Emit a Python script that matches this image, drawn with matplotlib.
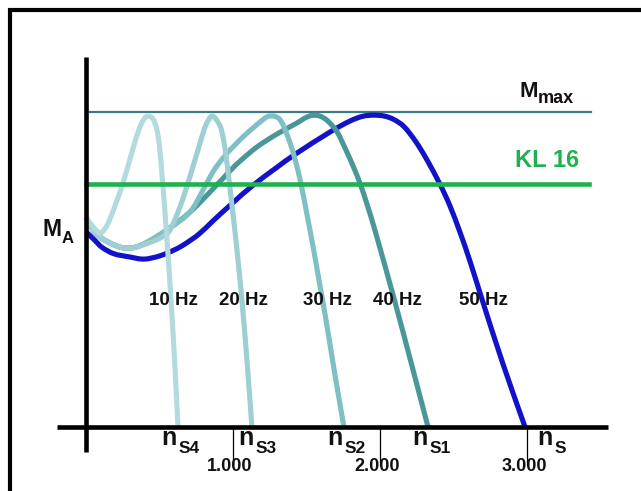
import matplotlib
matplotlib.use("Agg")
import numpy as np
import matplotlib.pyplot as plt
from matplotlib.patches import Rectangle, PathPatch
from matplotlib.path import Path

# ---------------- data (speed in rpm, torque in % of M_max) ----------------
n_10hz = [0, 54, 95, 129, 163, 204, 245, 286, 327, 361, 395, 422, 456, 483, 503, 517, 531, 551, 571, 599, 626]
m_10hz = [66.5, 63.2, 61.6, 62.9, 66.0, 71.1, 76.5, 82.9, 89.5, 94.6, 97.8, 98.7, 97.8, 94.3, 87.9, 80.0, 72.1, 59.4, 45.7, 24.4, 0]

n_20hz = [0, 40, 90, 160, 240, 330, 435, 517, 571, 639, 707, 776, 816, 857, 898, 925, 952, 973, 993, 1020, 1041, 1061, 1095, 1129]
m_20hz = [66.5, 63, 60.5, 58.5, 57, 57, 58.6, 60.3, 62.5, 69.8, 79.4, 90.2, 95.9, 98.7, 96.8, 93.7, 86.4, 78.4, 70.5, 59.4, 49.8, 40.3, 21.3, 0]

n_30hz = [0, 40, 90, 160, 240, 330, 430, 570, 707, 796, 864, 932, 1000, 1068, 1136, 1191, 1238, 1286, 1327, 1374, 1422, 1463, 1503, 1544, 1585, 1633, 1694, 1755]
m_30hz = [66.5, 63, 60.5, 58.5, 57, 57, 59, 63.2, 68.2, 75.2, 81.0, 85.4, 88.9, 92.1, 94.9, 97.1, 98.6, 98.6, 97.1, 92.1, 85.1, 77.1, 67.6, 57.5, 46.7, 34.0, 16.5, 0]

n_40hz = [0, 40, 90, 160, 240, 330, 430, 570, 707, 844, 980, 1048, 1163, 1299, 1435, 1490, 1537, 1592, 1646, 1708, 1769, 1823, 1871, 1918, 1973, 2102, 2211, 2327]
m_40hz = [66.5, 63, 60.5, 58.5, 57, 57, 59, 63.2, 68.2, 74.6, 81.3, 84.4, 88.9, 93.0, 96.5, 98.1, 98.9, 98.7, 97.1, 93.7, 87.9, 82.2, 76.5, 69.8, 61.3, 39.7, 20.6, 0]

n_50hz = [0, 55, 110, 190, 295, 395, 500, 600, 670, 770, 870, 995, 1130, 1295, 1430, 1655, 1790, 1880, 1955, 2030, 2095, 2165, 2245, 2320, 2408, 2476, 2544, 2612, 2694, 2837, 2987]
m_50hz = [62, 59.5, 57, 55, 54, 53.3, 54.3, 56.2, 58, 61.3, 65.7, 71, 76.5, 82.3, 86.8, 93.5, 97, 98.6, 99, 98.7, 97.6, 95.3, 90.5, 84.8, 77.1, 70.2, 61.9, 52.7, 40.6, 20.0, 0]

curve_labels = ["10 Hz", "20 Hz", "30 Hz", "40 Hz", "50 Hz"]
curve_label_x = [592, 1068, 1646, 2116, 2701]
curve_colors = ["#b3dadc", "#9dcfd3", "#7fc0c5", "#4a9799", "#1212c8"]

m_max_level = 100
kl16_level = 77.2

tick_values = [1000, 2000, 3000]
tick_labels = ["1.000", "2.000", "3.000"]

ns_names = ["S4", "S3", "S2", "S1", "S"]
ns_x = [510, 1034, 1640, 2218, 3068]


def smooth_path(xs, ys):
    """Cubic Bezier path passing through every data point (Catmull-Rom tangents)."""
    p = np.column_stack([xs, ys]).astype(float)
    verts = [tuple(p[0])]
    codes = [Path.MOVETO]
    n = len(p)
    for i in range(n - 1):
        p0 = p[i - 1] if i > 0 else p[i]
        p1 = p[i]
        p2 = p[i + 1]
        p3 = p[i + 2] if i + 2 < n else p[i + 1]
        c1 = p1 + (p2 - p0) / 6.0
        c2 = p2 - (p3 - p1) / 6.0
        verts += [tuple(c1), tuple(c2), tuple(p2)]
        codes += [Path.CURVE4] * 3
    return Path(verts, codes)


# ---------------- figure ----------------
fig = plt.figure(figsize=(6.41, 4.91), dpi=100)
ax = fig.add_axes([0, 0, 1, 1])
ax.set_xlim(-585, 3776)
ax.set_ylim(-20.32, 135.56)
ax.axis("off")

FONT = "Liberation Sans"
INK = "#111111"

# frame
fig.add_artist(Rectangle((10 / 641, -0.5), 2, (1 - 10 / 491) + 0.5,
                         transform=fig.transFigure, fill=False,
                         edgecolor="black", linewidth=3.0))

# M_max reference line
ax.plot([0, 3435], [m_max_level, m_max_level], color="#3b7b89", lw=1.6, zorder=2)

# curves (50 Hz at the bottom, 10 Hz on top)
series = [(n_50hz, m_50hz), (n_40hz, m_40hz), (n_30hz, m_30hz), (n_20hz, m_20hz), (n_10hz, m_10hz)]
colors = curve_colors[::-1]
for i, ((xs, ys), c) in enumerate(zip(series, colors)):
    patch = PathPatch(smooth_path(xs, ys), facecolor="none", edgecolor=c,
                      lw=3.7, capstyle="butt", joinstyle="round", zorder=3 + i)
    ax.add_patch(patch)

# KL16 line
ax.plot([0, 3420], [kl16_level, kl16_level], color="#1fb04f", lw=3.3, zorder=10)

# axes
ax.plot([-197, 3551], [0, 0], color="black", lw=3.3, zorder=11, solid_capstyle="butt")
ax.plot([0, 0], [-8, 117.5], color="black", lw=3.3, zorder=11, solid_capstyle="butt")
for t, lab in zip(tick_values, tick_labels):
    ax.plot([t, t], [0, -12], color="black", lw=0.9, zorder=11)
    ax.text(t - 20, -12.6, lab, ha="center", va="center", fontsize=13,
            fontweight="bold", family=FONT, color=INK, zorder=12)

# curve labels
for lab, x in zip(curve_labels, curve_label_x):
    ax.text(x, 40.3, lab, ha="center", va="center", fontsize=13.5,
            fontweight="bold", family=FONT, color=INK, zorder=12)

# n_S labels
for name, x in zip(ns_names, ns_x):
    ax.text(x, -5.7, "n", ha="left", va="baseline", fontsize=18,
            fontweight="bold", family=FONT, color=INK, zorder=12)
    ax.text(x + 118, -8.3, name, ha="left", va="baseline", fontsize=12.5,
            fontweight="bold", family=FONT, color=INK, zorder=12)

# M_A
ax.text(-299, 60.6, "M", ha="left", va="baseline", fontsize=16.5,
        fontweight="bold", family=FONT, color=INK)
ax.text(-163, 58.4, "A", ha="left", va="baseline", fontsize=12,
        fontweight="bold", family=FONT, color=INK)

# M_max
ax.text(2952, 104.8, "M", ha="left", va="baseline", fontsize=16,
        fontweight="bold", family=FONT, color=INK)
ax.text(3072, 102.9, "max", ha="left", va="baseline", fontsize=13,
        fontweight="bold", family=FONT, color=INK)

# KL 16
ax.text(2918, 82.5, "KL 16", ha="left", va="baseline", fontsize=17,
        fontweight="bold", family=FONT, color="#1fb04f")

fig.savefig("out.png", dpi=100, facecolor="white")
